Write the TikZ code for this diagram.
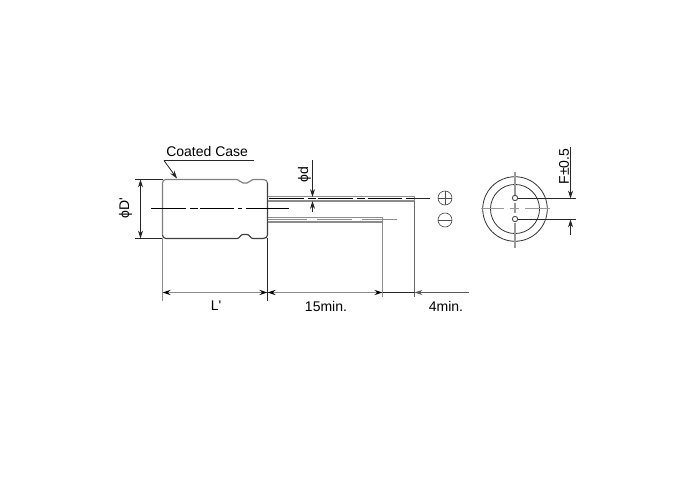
\documentclass[tikz,border=0pt]{standalone}
\usepackage{fontspec}
\setmainfont{Liberation Sans}[Ligatures=TeXOff]
\usepackage{tikz}
\usetikzlibrary{arrows.meta}
\usetikzlibrary{positioning}
\tikzset{
    thin line/.style={draw=black!85, line width=0.6},
    gray line/.style={draw=black!45, line width=0.9},
    case line/.style={draw=black!50, line width=0.9},
    dim/.style={thin line, -{Stealth[length=6, width=3.8]}},
    dim both/.style={draw=black!45, line width=1, {Stealth[length=6, width=3.8, black]}-{Stealth[length=6, width=3.8, black]}},
    center line/.style={draw=black, line width=0.6, dash pattern=on 26 off 3 on 6 off 2},
    axis line/.style={draw=black!40, line width=0.9},
    label/.style={inner sep=0, font=\fontsize{10.5}{12}\selectfont},
    sign/.style={draw=black!70, circle, line width=0.5, minimum size=10.5, inner sep=0},
    hole/.style={draw=black!70, circle, line width=0.7, minimum size=4, inner sep=0},
}
\begin{document}
\begin{tikzpicture}[x=0.75pt, y=-0.75pt, >=stealth]
    \useasboundingbox (0,0) rectangle (698,484);

    % case
    \coordinate (caseTL) at (162.5,179.5);
    \coordinate (caseBL) at (162.5,238.5);
    \coordinate (caseBR) at (267.5,238.5);
    \draw[case line] (162.5,235) -- (162.5,183) .. controls (162.5,180.5) and (164,179.5) .. (166,179.5) -- (237,179.5)
        .. controls (240,179.5) and (240,183) .. (243,183) -- (247,183)
        .. controls (250,183) and (250,179.5) .. (253,179.5) -- (263,179.5)
        .. controls (266,179.5) and (267.5,181) .. (267.5,183);
    \draw[case line, draw=black!75] (267.5,183) -- (267.5,235) .. controls (267.5,237) and (266,238.5) .. (263,238.5) -- (253,238.5)
        .. controls (250,238.5) and (250,234.5) .. (247,234.5) -- (243,234.5)
        .. controls (240,234.5) and (240,238.5) .. (237,238.5) -- (166,238.5)
        .. controls (164,238.5) and (162.5,237) .. (162.5,235);

    % leads
    \draw[gray line] (267.5,196.5) -- (414.5,196.5) -- (414.5,201) -- (267.5,201);
    \draw[gray line] (267.5,217.5) -- (382.5,217.5) -- (382.5,222) -- (267.5,222);
    \draw[gray line, line width=0.7] (267.5,219.8) -- (382.5,219.8);
    \draw[draw=white, line width=1.2, dash pattern=on 7.5 off 26] (307,219.8) -- (375,219.8);
    \draw[center line] (269,198.5) -- (414,198.5);
    \draw[thin line] (414,198.5) -- (430,198.5);
    \draw[gray line, line width=0.7] (382.5,219.8) -- (397,219.8);

    % axis of the case
    \draw[center line, dash pattern=on 26 off 3 on 6 off 2 on 25 off 3.5 on 3 off 3 on 32] (151,208.5) -- (289,208.5);

    % signs
    \node[sign] (plus) at (445,198) {};
    \node[sign] (minus) at (445,220) {};
    \draw[thin line, draw=black!70, line width=0.5] (plus.west) -- (plus.east);
    \draw[thin line, draw=black!70, line width=0.5] (plus.north) -- (plus.south);
    \draw[thin line, draw=black!70, line width=0.5] (minus.west) -- (minus.east);

    % coated case
    \node[label, anchor=base west] (coated) at (166,156.5) {Coated Case};
    \coordinate (ulA) at (164,160.5);
    \coordinate (ulB) at (254,160.5);
    \coordinate (ulC) at (177,178.5);
    \draw[thin line] (ulA) -- (ulB);
    \draw[dim] (ulA) -- (ulC);

    % phi D
    \coordinate (dA) at (135,179.5);
    \coordinate (dB) at (135,238.5);
    \coordinate (dC) at (140.5,179.5);
    \coordinate (dD) at (140.5,238.5);
    \draw[thin line] (dA) -- (caseTL);
    \draw[thin line] (dB) -- (caseBL);
    \draw[thin line, {Stealth[length=6, width=3.8]}-{Stealth[length=6, width=3.8]}] (dC) -- (dD);
    \node[label, rotate=90] (phiD) at (125.5,208.5) {ϕD'};

    % phi d
    \coordinate (pA) at (312.5,160);
    \coordinate (pB) at (312.5,197);
    \coordinate (pC) at (312.5,212);
    \coordinate (pD) at (312.5,201);
    \draw[dim] (pA) -- (pB);
    \draw[dim] (pC) -- (pD);
    \node[label, rotate=90] (phid) at (304.5,175) {ϕd};

    % length dimensions
    \coordinate (lA) at (162.5,301);
    \coordinate (lB) at (267.5,301);
    \coordinate (lC) at (382.5,297);
    \coordinate (lD) at (414.5,297);
    \coordinate (mA) at (162.5,292.5);
    \coordinate (mB) at (267.5,292.5);
    \coordinate (mC) at (382.5,292.5);
    \coordinate (mD) at (414.5,292.5);
    \coordinate (mE) at (469,292.5);
    \draw[gray line, line width=1.1] (caseBL) -- (lA);
    \draw[thin line] (caseBR) -- (lB);
    \draw[gray line, line width=1.1] (382.5,222) -- (lC);
    \draw[gray line, draw=black!60, line width=0.7] (414.5,201) -- (lD);
    \draw[dim both] (mA) -- (mB);
    \draw[dim both] (mB) -- (mC);
    \draw[thin line] (mC) -- (mD);
    \draw[dim, draw=black!65] (mE) -- (mD);
    \node[label] (lenL) at (216,306) {L'};
    \node[label] (len15) at (326,306) {15min.};
    \node[label] (len4) at (446,306) {4min.};

    % end view
    \node[draw=black!80, circle, line width=0.6, minimum size=48.4, inner sep=0] (outer) at (515,209) {};
    \node[draw=black!80, circle, line width=0.6, minimum size=36.8, inner sep=0] (inner) at (515,209) {};
    \draw[axis line, dash pattern=on 17 off 4.5 on 7 off 4.5 on 20] (481,208.5) -- (550,208.5);
    \draw[axis line, dash pattern=on 17 off 6 on 8 off 7.5 on 20] (515,172) -- (515,248);
    \node[hole, fill=white] (holeP) at (515,198) {};
    \node[hole, fill=white] (holeM) at (515,219) {};
    \coordinate (fA) at (576,198.5);
    \coordinate (fB) at (576,219.5);
    \draw[thin line] (holeP.east |- fA) -- (fA);
    \draw[thin line] (holeM.east |- fB) -- (fB);
    \coordinate (fC) at (570.5,147);
    \coordinate (fD) at (570.5,198.5);
    \coordinate (fE) at (570.5,235);
    \coordinate (fF) at (570.5,219.5);
    \draw[dim] (fC) -- (fD);
    \draw[dim] (fE) -- (fF);
    \node[label, rotate=90] (tol) at (564,166.5) {F±0.5};
\end{tikzpicture}
\end{document}
